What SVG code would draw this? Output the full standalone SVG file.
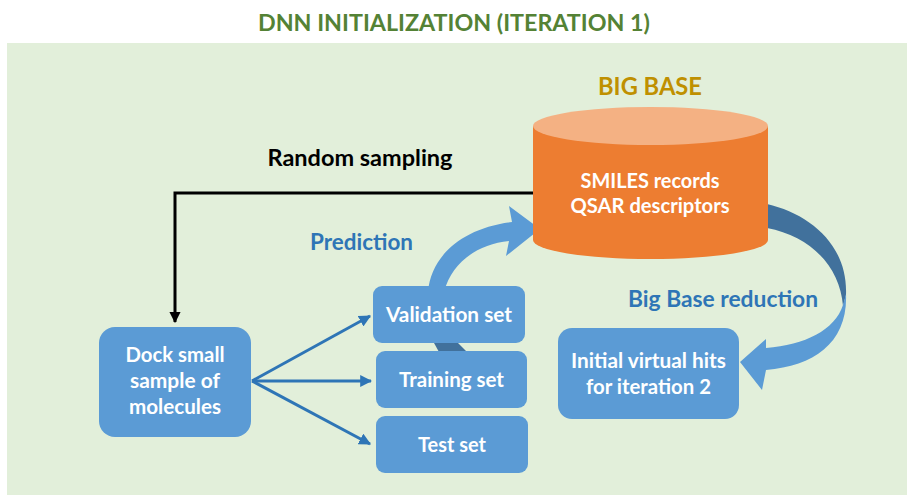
<svg xmlns="http://www.w3.org/2000/svg" width="907" height="495" viewBox="0 0 907 495">
<defs>
<style>
text{font-family:Lato,"Liberation Sans",sans-serif;font-weight:bold;text-anchor:middle}
.box{fill:#5b9bd5}
.wt{fill:#ffffff;font-size:20.5px}
.bl{fill:#2e75b6;font-size:23px}
.fan{stroke:#2e75b6;stroke-width:3;fill:none;marker-end:url(#ab)}
</style>
<marker id="ab" viewBox="0 0 10 10" refX="9" refY="5" markerWidth="4" markerHeight="4" orient="auto" markerUnits="strokeWidth"><path d="M0,0 L10,5 L0,10 z" fill="#2e75b6"/></marker>
<marker id="ak" viewBox="0 0 10 10" refX="9" refY="5" markerWidth="3.7" markerHeight="3.7" orient="auto" markerUnits="strokeWidth"><path d="M0,0 L10,5 L0,10 z" fill="#000"/></marker>
</defs>
<rect x="0" y="0" width="907" height="495" fill="#ffffff"/>
<rect x="7" y="43" width="900" height="452" fill="#e2efda"/>
<text x="454" y="31" style="font-size:23.3px;fill:#548235" textLength="392" lengthAdjust="spacingAndGlyphs">DNN INITIALIZATION (ITERATION 1)</text>

<g id="connectors">
<polyline points="533,193 175,193 175,322" stroke="#000" stroke-width="3" fill="none" marker-end="url(#ak)"/>
<line class="fan" x1="252" y1="381" x2="370" y2="316"/>
<line class="fan" x1="252" y1="381" x2="371" y2="381"/>
<line class="fan" x1="252" y1="381" x2="370" y2="444"/>
<polygon points="434,343 458,343 467,352 439,352" fill="#41719c"/>
<path d="M428,292 C431,256 462,228 512,222 L509,206 L540,229 L506,256 L509,241 C478,244 452,262 444,292 Z" fill="#5b9bd5"/>
<path d="M767,204 C810,214 848,245 846,295 L843,306 C840,266 810,236 767,228 Z" fill="#41719c"/>
<path d="M846,294 C848,342 815,366 766,370 L762,390 L740,362 L766,339 L766,348 C805,345 835,330 843,305 Z" fill="#5b9bd5"/>
</g>

<g id="bigbase">
<text x="650" y="95" style="font-size:24px;fill:#bf9000" textLength="104" lengthAdjust="spacingAndGlyphs">BIG BASE</text>
<path d="M533,126 L533,240 A117.5,19 0 0 0 768,240 L768,126 Z" fill="#ed7d31"/>
<ellipse cx="650.5" cy="126" rx="117.5" ry="19" fill="#f4b183"/>
<text class="wt" x="650" y="188" textLength="139" lengthAdjust="spacingAndGlyphs">SMILES records</text>
<text class="wt" x="650" y="213" textLength="159" lengthAdjust="spacingAndGlyphs">QSAR descriptors</text>
</g>

<g id="random-label"><text x="360" y="166" style="font-size:23px;fill:#000" textLength="185" lengthAdjust="spacingAndGlyphs">Random sampling</text></g>
<g id="prediction-label"><text class="bl" x="361.5" y="250" textLength="103" lengthAdjust="spacingAndGlyphs">Prediction</text></g>
<g id="reduction-label"><text class="bl" x="723" y="307" textLength="190" lengthAdjust="spacingAndGlyphs">Big Base reduction</text></g>

<g id="dock">
<rect class="box" x="99" y="327" width="152" height="110" rx="16"/>
<text class="wt" x="175" y="362" textLength="99" lengthAdjust="spacingAndGlyphs">Dock small</text>
<text class="wt" x="175" y="388" textLength="90" lengthAdjust="spacingAndGlyphs">sample of</text>
<text class="wt" x="175" y="414" textLength="92" lengthAdjust="spacingAndGlyphs">molecules</text>
</g>
<g id="validation">
<rect class="box" x="373" y="286" width="152" height="57" rx="9"/>
<text class="wt" x="449" y="322" textLength="126" lengthAdjust="spacingAndGlyphs">Validation set</text>
</g>
<g id="training">
<rect class="box" x="376" y="351" width="151" height="57" rx="9"/>
<text class="wt" x="451.5" y="387" textLength="105" lengthAdjust="spacingAndGlyphs">Training set</text>
</g>
<g id="test">
<rect class="box" x="376" y="416" width="152" height="57" rx="9"/>
<text class="wt" x="452" y="452" textLength="68" lengthAdjust="spacingAndGlyphs">Test set</text>
</g>
<g id="hits">
<rect class="box" x="558" y="328" width="181" height="91" rx="14"/>
<text class="wt" x="648.5" y="368" textLength="155" lengthAdjust="spacingAndGlyphs">Initial virtual hits</text>
<text class="wt" x="648.5" y="394" textLength="125" lengthAdjust="spacingAndGlyphs">for iteration 2</text>
</g>
</svg>
